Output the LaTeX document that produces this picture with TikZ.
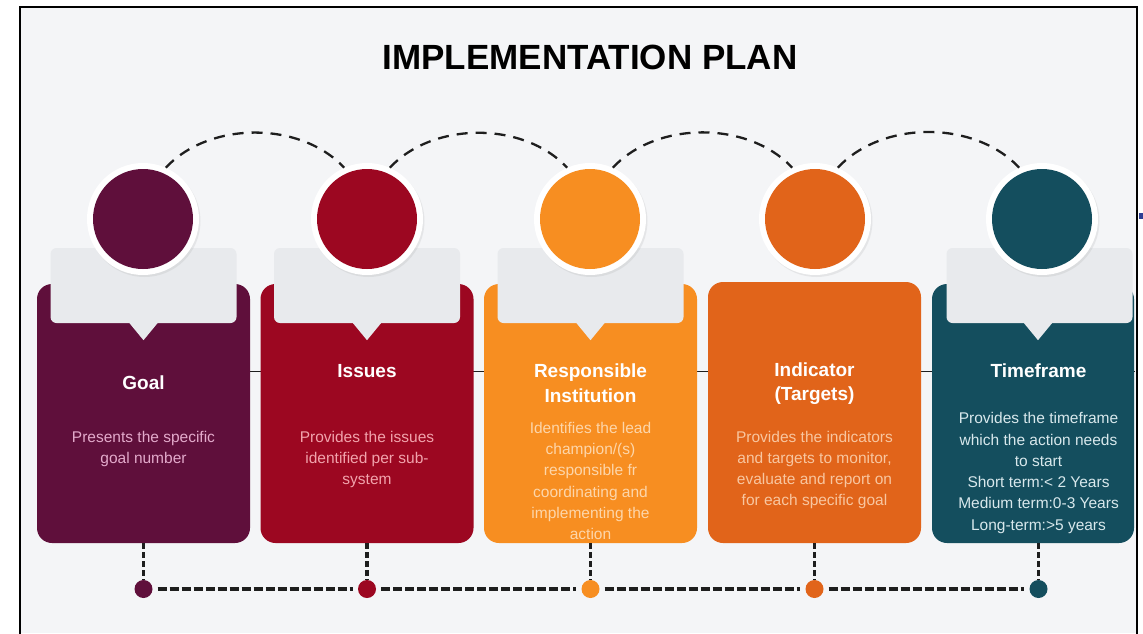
\documentclass[tikz,border=0pt]{standalone}
\usepackage{fontspec}
\setmainfont{Liberation Sans}
\usetikzlibrary{shadows}

\definecolor{pagebg}{HTML}{F4F5F7}
\definecolor{tabgray}{HTML}{E8EAED}
\definecolor{goalc}{HTML}{5F0F3B}
\definecolor{issuec}{HTML}{9C0721}
\definecolor{respc}{HTML}{F78E21}
\definecolor{indc}{HTML}{E1641A}
\definecolor{timec}{HTML}{144E5E}
\definecolor{goaltx}{HTML}{E3AACB}
\definecolor{issuetx}{HTML}{F1A3AC}
\definecolor{resptx}{HTML}{FDD6AA}
\definecolor{indtx}{HTML}{F8C6A0}
\definecolor{timetx}{HTML}{D8E8EC}
\definecolor{linkc}{HTML}{1E1E1E}
\definecolor{logoblue}{HTML}{2F3E94}

\tikzset{
  card/.style={rectangle, rounded corners=15pt, minimum width=213pt, inner sep=0pt, draw=none},
  tabbox/.style={rectangle, fill=tabgray, rounded corners=6pt, minimum width=186pt, minimum height=75pt, inner sep=0pt},
  ring/.style={circle, fill=white, minimum size=112pt, inner sep=0pt,
    drop shadow={opacity=0.13, shadow xshift=1.5pt, shadow yshift=-2pt}},
  disc/.style={circle, minimum size=100pt, inner sep=0pt},
  dot/.style={circle, minimum size=18pt, inner sep=0pt},
  headline/.style={font=\fontsize{35}{40}\selectfont\bfseries, text=black},
  cardtitle/.style={font=\fontsize{19}{24.5}\selectfont\bfseries, text=white, align=center, inner sep=0pt},
  cardbody/.style={font=\fontsize{15.5}{21.3}\selectfont, align=center, inner sep=0pt},
  arcline/.style={draw=linkc, line width=2.3pt, dash pattern=on 11pt off 8pt},
  drop/.style={draw=linkc, line width=3.8pt, dash pattern=on 6pt off 3pt},
  rail/.style={draw=linkc, line width=3.2pt, dash pattern=on 9pt off 3pt, shorten <=5pt, shorten >=5pt},
}

\begin{document}
\begin{tikzpicture}[x=1pt, y=-1pt]
\useasboundingbox (0,0) rectangle (1143,633);
\fill[white] (0,0) rectangle (1143,633);
\fill[pagebg] (20,7) rectangle (1137,633);

% logo fragment beyond the frame
\fill[logoblue] (1139,213) rectangle (1143,219);

\begin{scope}
\clip (20,7) rectangle (1136,633);

% heading
\node[headline] (title) at (590,57) {IMPLEMENTATION PLAN};

% thin guide line running behind the cards
\coordinate (guideL) at (37,371);
\coordinate (guideR) at (1135,371);
\draw[linkc, line width=0.9pt] (guideL) -- (guideR);

% cards
\node[card, fill=goalc,  minimum height=259pt] (k1) at (143.5,413.5) {};
\node[card, fill=issuec, minimum height=259pt] (k2) at (367,413.5) {};
\node[card, fill=respc,  minimum height=259pt] (k3) at (590.5,413.5) {};
\node[card, fill=indc,   minimum height=261pt] (k4) at (814.5,412.5) {};
\node[card, fill=timec,  minimum height=259pt, minimum width=202pt] (k5) at (1033,413.5) {};

% grey callout tabs with their pointers
\foreach \n/\x/\p in {1/143.5/0, 2/367/0, 3/590.5/0, 5/1039.5/-1.5}{
  \node[tabbox] (t\n) at (\x,285.5) {};
  \fill[tabgray] ([xshift=\p pt-14pt]t\n.south) -- ([xshift=\p pt+14pt]t\n.south)
    -- ([xshift=\p pt, yshift=-17pt]t\n.south) -- cycle;
}

% circles
\foreach \n/\x/\c in {1/143/goalc, 2/367/issuec, 3/590/respc, 4/815/indc, 5/1042/timec}{
  \node[ring] (c\n) at (\x,219) {};
  \node[disc, fill=\c] (cc\n) at (c\n) {};
}

% dashed arcs linking the circles
\foreach \a/\b in {1/2, 2/3, 3/4, 4/5}{
  \draw[arcline] (c\a.66) to[out=47, in=133, looseness=0.92] (c\b.114);
}

% card texts
\node[cardtitle] (h1) at (143.5,383) {Goal};
\node[cardbody, text=goaltx] (b1) at (143.5,449) {Presents the specific\\goal number};

\node[cardtitle] (h2) at (367,371) {Issues};
\node[cardbody, text=issuetx] (b2) at (367,459.5) {Provides the issues\\identified per sub-\\system};

\node[cardtitle] (h3) at (590.5,383) {Responsible\\Institution};
\node[cardbody, text=resptx] (b3) at (590.5,481) {Identifies the lead\\champion/(s)\\responsible fr\\coordinating and\\implementing the\\action};

\node[cardtitle] (h4) at (814.5,383.5) {Indicator\\(Targets)};
\node[cardbody, text=indtx] (b4) at (814.5,470) {Provides the indicators\\and targets to monitor,\\evaluate and report on\\for each specific goal};

\node[cardtitle] (h5) at (1038.5,371) {Timeframe};
\node[cardbody, text=timetx] (b5) at (1038.5,473) {Provides the timeframe\\which the action needs\\to start\\Short term:< 2 Years\\Medium term:0-3 Years\\Long-term:>5 years};

% timeline dots and the drops from each card
\foreach \n/\x/\c in {1/143.5/goalc, 2/367/issuec, 3/590.5/respc, 4/814.5/indc, 5/1038.5/timec}{
  \node[dot, fill=\c] (d\n) at (\x,589) {};
  \draw[drop] (d\n.north |- k\n.south) -- (d\n.north);
}

% timeline rail
\foreach \a/\b in {1/2, 2/3, 3/4, 4/5}{
  \draw[rail] (d\a.east) -- (d\b.west);
}
\end{scope}

% frame
\coordinate (fBL) at (20,640);
\coordinate (fTL) at (20,7);
\coordinate (fTR) at (1137,7);
\coordinate (fBR) at (1137,640);
\draw[black, line width=2pt] (fBL) -- (fTL) -- (fTR) -- (fBR);
\end{tikzpicture}
\end{document}
